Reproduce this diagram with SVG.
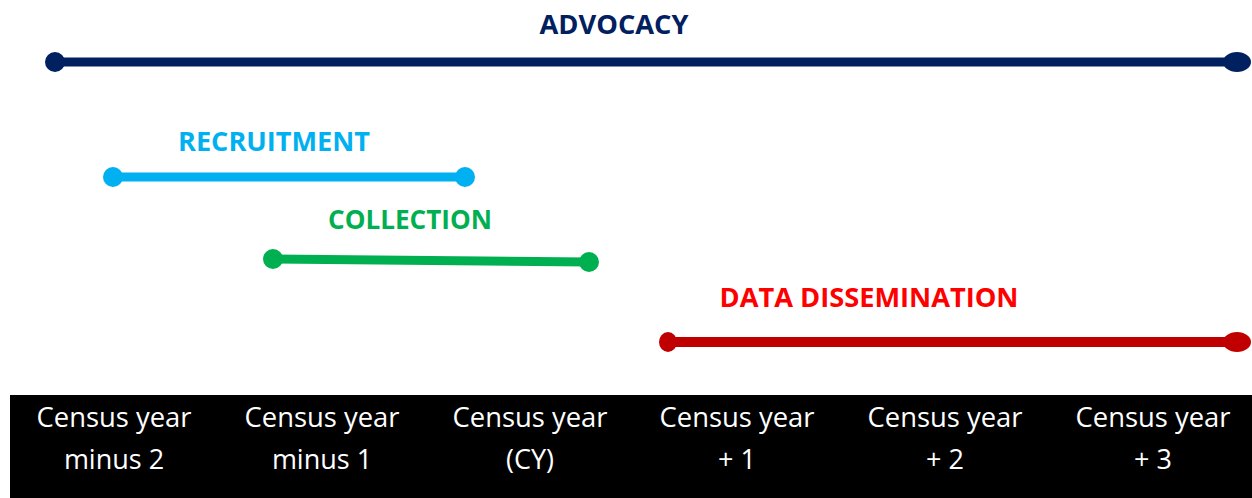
<svg xmlns="http://www.w3.org/2000/svg" width="1252" height="498" viewBox="0 0 1252 498">
<style>
.h{font-family:"Open Sans","Noto Sans","Liberation Sans",sans-serif;font-weight:bold;font-size:26px;text-anchor:middle}
.y{font-family:"Open Sans","Noto Sans","Liberation Sans",sans-serif;font-size:27px;fill:#fff;text-anchor:middle}
.ln{fill:none;stroke-linecap:butt}
</style>
<rect width="1252" height="498" fill="#fff"/>
<g id="connectors">
<g id="advocacy-line">
<line class="ln" x1="55" y1="62" x2="1236" y2="62" stroke="#002060" stroke-width="9"/>
<circle cx="55" cy="62" r="10" fill="#002060"/>
<ellipse cx="1237" cy="62" rx="14" ry="10" fill="#002060"/>
</g>
<g id="recruitment-line">
<line class="ln" x1="113" y1="177" x2="465" y2="177" stroke="#00B0F0" stroke-width="9"/>
<circle cx="113" cy="177" r="10" fill="#00B0F0"/>
<circle cx="465" cy="177" r="10" fill="#00B0F0"/>
</g>
<g id="collection-line">
<line class="ln" x1="273" y1="259" x2="589" y2="262" stroke="#00B050" stroke-width="9"/>
<circle cx="273" cy="259" r="10" fill="#00B050"/>
<circle cx="589" cy="262" r="10" fill="#00B050"/>
</g>
<g id="dissemination-line">
<line class="ln" x1="668" y1="342" x2="1236" y2="342" stroke="#C00000" stroke-width="10"/>
<ellipse cx="668" cy="342" rx="9" ry="10" fill="#C00000"/>
<ellipse cx="1237" cy="342" rx="14" ry="10" fill="#C00000"/>
</g>
</g>
<g id="advocacy"><text class="h" x="614" y="34" fill="#002060" textLength="149" lengthAdjust="spacingAndGlyphs">ADVOCACY</text></g>
<g id="recruitment"><text class="h" x="274" y="151" fill="#00B0F0" textLength="192" lengthAdjust="spacingAndGlyphs">RECRUITMENT</text></g>
<g id="collection"><text class="h" x="410" y="229" fill="#00B050" textLength="164" lengthAdjust="spacingAndGlyphs">COLLECTION</text></g>
<g id="data-dissemination"><text class="h" x="869" y="307" fill="#FF0000" textLength="299" lengthAdjust="spacingAndGlyphs">DATA DISSEMINATION</text></g>
<g id="timeline">
<rect x="10" y="395" width="1242" height="103" fill="#000"/>
<g id="cy-minus-2"><text class="y" x="114" y="427" textLength="155" lengthAdjust="spacingAndGlyphs">Census year</text><text class="y" x="114" y="469">minus 2</text></g>
<g id="cy-minus-1"><text class="y" x="322" y="427" textLength="155" lengthAdjust="spacingAndGlyphs">Census year</text><text class="y" x="322" y="469">minus 1</text></g>
<g id="cy"><text class="y" x="530" y="427" textLength="155" lengthAdjust="spacingAndGlyphs">Census year</text><text class="y" x="530" y="469">(CY)</text></g>
<g id="cy-plus-1"><text class="y" x="737" y="427" textLength="155" lengthAdjust="spacingAndGlyphs">Census year</text><text class="y" x="737" y="469">+ 1</text></g>
<g id="cy-plus-2"><text class="y" x="945" y="427" textLength="155" lengthAdjust="spacingAndGlyphs">Census year</text><text class="y" x="945" y="469">+ 2</text></g>
<g id="cy-plus-3"><text class="y" x="1153" y="427" textLength="155" lengthAdjust="spacingAndGlyphs">Census year</text><text class="y" x="1153" y="469">+ 3</text></g>
</g>
</svg>
